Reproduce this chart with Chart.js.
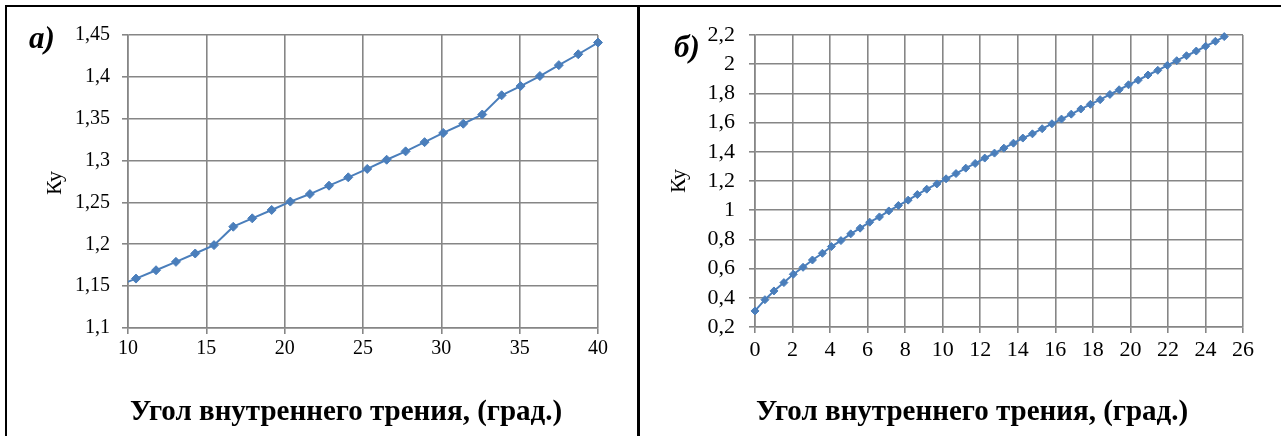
<!DOCTYPE html>
<html>
<head>
<meta charset="utf-8">
<script src="https://cdn.jsdelivr.net/npm/chart.js@4.4.0/dist/chart.umd.min.js"></script>
<style>
  body { margin: 0; background: #fff; width: 1281px; height: 436px; overflow: hidden; position: relative; font-family: "Liberation Serif", "Times New Roman", serif; }
  .pane { position: absolute; top: 0; height: 436px; }
  .line { position: absolute; background: #000; }
  .tag { position: absolute; font-weight: bold; font-style: italic; font-size: 31px; line-height: 1; }
  .ytitle { position: absolute; font-size: 22px; line-height: 1; transform: translate(-50%, -50%) rotate(-90deg); }
  .xtitle { position: absolute; font-weight: bold; font-size: 29px; line-height: 1; white-space: nowrap; }
</style>
</head>
<body>

<div class="pane" style="left:0;width:636px"><canvas id="chartA" width="636" height="436"></canvas></div>
<div class="pane" style="left:641px;width:640px"><canvas id="chartB" width="640" height="436"></canvas></div>

<!-- frames -->
<div class="line" style="left:5px;top:5px;width:1276px;height:2px"></div>
<div class="line" style="left:5px;top:5px;width:2px;height:431px"></div>
<div class="line" style="left:637px;top:5px;width:3px;height:431px"></div>

<div class="tag" style="left:29px;top:22px">а)</div>
<div class="tag" style="left:674px;top:31px">б)</div>
<div class="ytitle" style="left:54px;top:183px">Ку</div>
<div class="ytitle" style="left:678px;top:181px">Ку</div>
<div class="xtitle" style="left:130px;top:396px">Угол внутреннего трения, (град.)</div>
<div class="xtitle" style="left:756px;top:396px">Угол внутреннего трения, (град.)</div>

<script>
// а) Ку vs angle, 10..40 deg
const leftAngle = [9.28, 10.51, 11.79, 13.06, 14.29, 15.49, 16.72, 17.93, 19.17, 20.36, 21.61, 22.83, 24.06,
  25.27, 26.51, 27.72, 28.93, 30.12, 31.40, 32.61, 33.85, 35.06, 36.29, 37.50, 38.74, 40.00];
const leftKy = [1.150, 1.159, 1.169, 1.179, 1.189, 1.199, 1.221, 1.231, 1.241, 1.251, 1.260, 1.270, 1.280,
  1.290, 1.301, 1.311, 1.322, 1.333, 1.344, 1.355, 1.378, 1.389, 1.401, 1.414, 1.427, 1.441];
const leftXTicks = [10, 15, 20, 25, 30, 35, 40];
const leftYTicks = [1.1, 1.15, 1.2, 1.25, 1.3, 1.35, 1.4, 1.45];

// б) Ку vs angle, 0..25 deg
const rightAngle = [0, 0.53, 1.01, 1.54, 2.04, 2.56, 3.06, 3.59, 4.07, 4.58, 5.10, 5.60, 6.11, 6.63, 7.13,
  7.64, 8.16, 8.65, 9.15, 9.69, 10.18, 10.71, 11.23, 11.73, 12.24, 12.76, 13.26, 13.77, 14.27, 14.78,
  15.30, 15.82, 16.33, 16.85, 17.36, 17.87, 18.39, 18.91, 19.40, 19.90, 20.42, 20.94, 21.46, 21.97,
  22.47, 22.99, 23.51, 24.01, 24.53, 25.00];
const rightKy = [0.310, 0.387, 0.447, 0.504, 0.561, 0.609, 0.659, 0.705, 0.751, 0.792,
  0.838, 0.877, 0.918, 0.954, 0.995, 1.032, 1.069, 1.107, 1.144, 1.180,
  1.215, 1.251, 1.288, 1.320, 1.357, 1.391, 1.425, 1.459, 1.494, 1.523,
  1.558, 1.592, 1.624, 1.658, 1.693, 1.725, 1.757, 1.793, 1.825, 1.859,
  1.891, 1.926, 1.958, 1.992, 2.024, 2.058, 2.090, 2.123, 2.157, 2.189];
const rightXTicks = [0, 2, 4, 6, 8, 10, 12, 14, 16, 18, 20, 22, 24, 26];
const rightYTicks = [0.2, 0.4, 0.6, 0.8, 1, 1.2, 1.4, 1.6, 1.8, 2, 2.2];

const blue = '#4a7ebb';
const gridGray = '#868686';

function comma(v) {
  return String(Math.round(v * 100) / 100).replace('.', ',');
}

function makeChart(id, xs, ys, xTicks, yTicks, o) {
  new Chart(document.getElementById(id).getContext('2d'), {
    type: 'line',
    data: {
      datasets: [{
        data: xs.map(function (x, i) { return { x: x, y: ys[i] }; }),
        borderColor: blue,
        backgroundColor: blue,
        borderWidth: o.lineWidth,
        pointStyle: 'rectRot',
        pointRadius: o.pointRadius,
        pointBorderWidth: 1,
        tension: 0,
        clip: o.clip
      }]
    },
    options: {
      responsive: false,
      animation: false,
      events: [],
      layout: { padding: { left: 0, right: o.padRight, top: 35, bottom: 0 } },
      plugins: { legend: { display: false }, tooltip: { enabled: false } },
      scales: {
        x: {
          type: 'linear',
          min: xTicks[0],
          max: xTicks[xTicks.length - 1],
          afterBuildTicks: function (axis) { axis.ticks = xTicks.map(function (v) { return { value: v }; }); },
          afterFit: function (axis) { axis.height = o.xHeight; },
          grid: { color: gridGray, lineWidth: 1.6, tickLength: 6, tickColor: gridGray },
          border: { color: gridGray, width: 1.6 },
          ticks: {
            color: '#000', padding: o.xPad, maxRotation: 0, autoSkip: false,
            font: { family: 'Liberation Serif', size: o.fontSize }
          }
        },
        y: {
          min: yTicks[0],
          max: yTicks[yTicks.length - 1],
          afterBuildTicks: function (axis) { axis.ticks = yTicks.map(function (v) { return { value: v }; }); },
          afterFit: function (axis) { axis.width = o.yWidth; },
          grid: { color: gridGray, lineWidth: 1.6, tickLength: 6, tickColor: gridGray },
          border: { color: gridGray, width: 1.6 },
          ticks: {
            color: '#000', padding: o.yPad, autoSkip: false,
            font: { family: 'Liberation Serif', size: o.fontSize },
            callback: function (v) { return comma(v); }
          }
        }
      }
    }
  });
}

// left panel: the first point lies below 10 deg and is cut at the axis
makeChart('chartA', leftAngle, leftKy, leftXTicks, leftYTicks,
  { padRight: 38, xHeight: 108, yWidth: 128, xPad: 3, yPad: 12, fontSize: 20, lineWidth: 2, pointRadius: 4.5,
    clip: { left: 0, top: false, right: false, bottom: false } });
makeChart('chartB', rightAngle, rightKy, rightXTicks, rightYTicks,
  { padRight: 38, xHeight: 109, yWidth: 114, xPad: 4, yPad: 14, fontSize: 22, lineWidth: 2, pointRadius: 4,
    clip: false });
</script>
</body>
</html>
